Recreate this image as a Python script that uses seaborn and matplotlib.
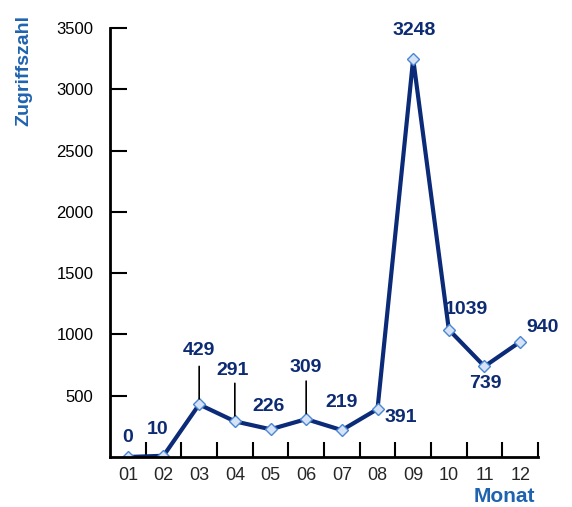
import matplotlib
matplotlib.use("Agg")
import matplotlib.pyplot as plt
import seaborn as sns
import pandas as pd

# Monthly access counts
months = ["01", "02", "03", "04", "05", "06", "07", "08", "09", "10", "11", "12"]
hits = [0, 10, 429, 291, 226, 309, 219, 391, 3248, 1039, 739, 940]
yticks = [500, 1000, 1500, 2000, 2500, 3000, 3500]

# label offsets (pixels) relative to each point, and which get a leader line
label_offsets = [(0, 20), (-6, 26), (0, 54), (-2, 51), (-2, 23), (0, 52),
                 (0, 28), (23, -8), (1, 28), (18, 20), (1, -17), (22, 14)]
leaders = [False, False, True, True, False, True,
           False, False, False, False, False, False]

sns.set_style("white")
plt.rcParams["font.family"] = ["Liberation Sans", "DejaVu Sans"]

line_color = "#0b2b78"
label_color = "#0d2b73"
axis_title_color = "#1f63b0"

df = pd.DataFrame({"Monat": months, "Zugriffe": hits})

fig = plt.figure(figsize=(5.72, 5.07), dpi=100)
ax = fig.add_axes([110 / 572, 1 - 457 / 507, 428 / 572, 429 / 507])

sns.lineplot(data=df, x="Monat", y="Zugriffe", ax=ax, sort=False,
             color=line_color, linewidth=3, marker="D", markersize=6,
             markerfacecolor="#d6e2f5", markeredgecolor="#4a86d4",
             markeredgewidth=1)

ax.set_xlim(-0.5, len(months) - 0.5)
ax.set_ylim(0, 3500)
ax.set_xlabel("")
ax.set_ylabel("")

for side in ("top", "right"):
    ax.spines[side].set_visible(False)
for side in ("left", "bottom"):
    ax.spines[side].set_color("black")
    ax.spines[side].set_linewidth(2)

ax.set_yticks(yticks)
ax.set_yticklabels([str(v) for v in yticks])
ax.tick_params(axis="y", direction="in", length=12, width=1.5, pad=12,
               labelsize=12, colors="black", left=True)

ax.set_xticks(range(len(months)))
ax.set_xticklabels(months)
ax.set_xticks([i + 0.5 for i in range(len(months))], minor=True)
ax.tick_params(axis="x", which="major", length=0, pad=7, labelsize=13)
ax.tick_params(axis="x", which="minor", direction="in", length=11,
               width=1.5, bottom=True, colors="black")

for i, (v, off, lead) in enumerate(zip(hits, label_offsets, leaders)):
    ax.annotate(str(v), xy=(i, v), xytext=off, textcoords="offset pixels",
                ha="center", va="center", fontsize=14, fontweight="bold",
                color=label_color)
    if lead:
        ax.annotate("", xy=(i, v), xytext=(0, 38), textcoords="offset pixels",
                    arrowprops=dict(arrowstyle="-", color="black", lw=1.2,
                                    shrinkA=0, shrinkB=4))

fig.text(24 / 572, 1 - 70 / 507, "Zugriffszahl", rotation=90, ha="center",
         va="center", fontsize=14, fontweight="bold", color=axis_title_color)
fig.text(504 / 572, 1 - 496 / 507, "Monat", ha="center", va="center",
         fontsize=15, fontweight="bold", color=axis_title_color)

fig.savefig("out.png", dpi=100)
